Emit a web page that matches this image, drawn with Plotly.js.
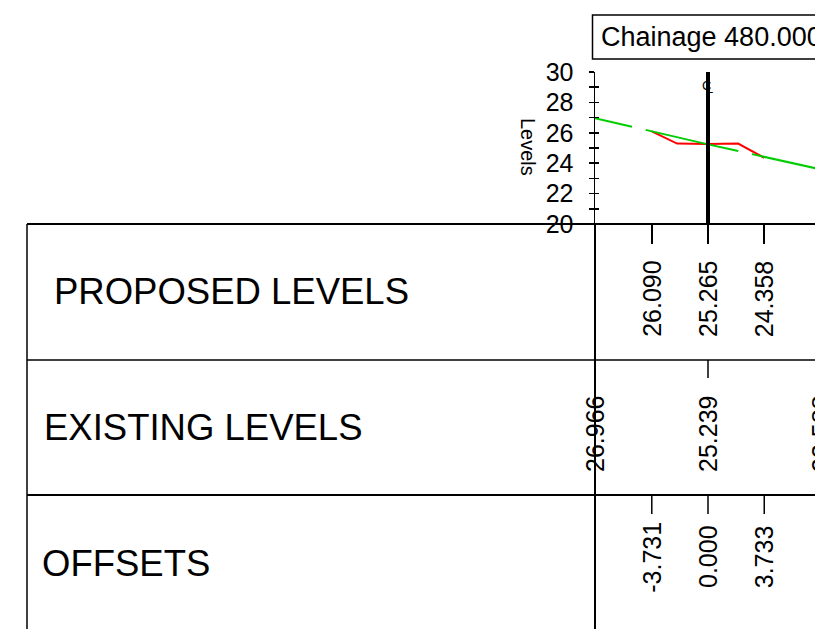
<!DOCTYPE html>
<html>
<head>
<meta charset="utf-8">
<script src="https://cdn.plot.ly/plotly-3.0.1.min.js"></script>
<style>html,body{margin:0;padding:0;overflow:hidden;background:#fff;}</style>
</head>
<body>
<div id="chart"></div>
<script>
// ---- data ----
const chainage = 480.000;
const proposedOffsets = [-3.731, -2.05, 0.000, 2.00, 3.733];
const proposedLevels  = [26.090, 25.29, 25.265, 25.29, 24.358];
const proposedLabelOffsets = [-3.731, 0.000, 3.733];
const proposedLabelLevels  = [26.090, 25.265, 24.358];
const existingOffsets = [-7.5, 0.000, 7.5];
const existingLevels  = [26.966, 25.239, 23.588];
const existingTickOffsets = [0.000];
const offsetLabels = [-3.731, 0.000, 3.733];
const rowTitles = ['PROPOSED LEVELS', 'EXISTING LEVELS', 'OFFSETS'];

// ---- layout geometry (pixels) ----
const W = 900, H = 629;
const PL = 595, PR = 821, PT = 72, PB = 224;
const px = v => (v - PL) / (PR - PL);
const py = v => (PB - v) / (PB - PT);
const FONT = 'Liberation Sans, Arial, sans-serif';

const traces = [
  {x: proposedOffsets, y: proposedLevels, mode: 'lines', line: {color: '#ff0000', width: 2}, hoverinfo: 'skip'},
  {x: existingOffsets, y: existingLevels, mode: 'lines',
   line: {color: '#00cd00', width: 2, dash: '38px,14px,95px,14px,400px'}, hoverinfo: 'skip'},
  {x: [0, 0], y: [20, 30], mode: 'lines', line: {color: '#000', width: 4}, yaxis: 'y2', hoverinfo: 'skip'}
];

const shapes = [];
const hline = (y, x0, x1, w) => shapes.push({type: 'line', xref: 'paper', yref: 'paper',
  x0: px(x0), x1: px(x1), y0: py(y), y1: py(y), line: {color: '#000', width: w}});
const vline = (x, y0, y1, w) => shapes.push({type: 'line', xref: 'paper', yref: 'paper',
  x0: px(x), x1: px(x), y0: py(y0), y1: py(y1), line: {color: '#000', width: w}});
hline(224, 27, W + 5, 2);
hline(360, 27, W + 5, 1.5);
hline(495, 27, W + 5, 2);
vline(27, 224, H + 5, 1.5);
vline(595, 224, H + 5, 2);
// chainage title box
shapes.push({type: 'rect', xref: 'paper', yref: 'paper', x0: px(592.5), x1: px(830), y0: py(15), y1: py(59),
  line: {color: '#000', width: 1.5}, fillcolor: 'rgba(0,0,0,0)'});
existingTickOffsets.forEach(v => shapes.push({type: 'line', xref: 'x', yref: 'paper',
  x0: v, x1: v, y0: py(360), y1: py(378), line: {color: '#000', width: 1.5}}));
offsetLabels.forEach(v => shapes.push({type: 'line', xref: 'x', yref: 'paper',
  x0: v, x1: v, y0: py(495), y1: py(514), line: {color: '#000', width: 1.5}}));

const annotations = [];
const rowY = [291, 427.5, 563];
const rowX = [52, 42, 40];
rowTitles.forEach((t, i) => annotations.push({text: t, xref: 'paper', yref: 'paper',
  x: px(rowX[i]), y: py(rowY[i]), xanchor: 'left', yanchor: 'middle', showarrow: false,
  font: {family: FONT, size: 36.5, color: '#000'}}));
const valLabel = (x, val, yc) => annotations.push({text: val.toFixed(3), xref: 'x', yref: 'paper',
  x: x, y: py(yc), xanchor: 'center', yanchor: 'middle', textangle: -90, showarrow: false,
  font: {family: FONT, size: 25, color: '#000'}});
proposedLabelOffsets.forEach((o, i) => valLabel(o, proposedLabelLevels[i], 299));
existingOffsets.forEach((o, i) => valLabel(o, existingLevels[i], 434));
offsetLabels.forEach(o => valLabel(o, o, 557));

annotations.push({text: 'Chainage ' + chainage.toFixed(3), xref: 'paper', yref: 'paper', x: px(599), y: py(37),
  xanchor: 'left', yanchor: 'middle', showarrow: false,
  font: {family: FONT, size: 27, color: '#000'}});
annotations.push({text: 'Levels', xref: 'paper', yref: 'paper', x: px(528), y: py(147),
  xanchor: 'center', yanchor: 'middle', textangle: 90, showarrow: false,
  font: {family: FONT, size: 20, color: '#000'}});
annotations.push({text: 'C', xref: 'paper', yref: 'paper', x: px(706), y: py(85),
  xanchor: 'center', yanchor: 'middle', showarrow: false, font: {family: FONT, size: 13, color: '#000'}});
annotations.push({text: 'L', xref: 'paper', yref: 'paper', x: px(704), y: py(88),
  xanchor: 'left', yanchor: 'middle', showarrow: false, font: {family: FONT, size: 13, color: '#000'}});

const layout = {
  width: W, height: H,
  margin: {l: PL, r: W - PR, t: PT, b: H - PB},
  paper_bgcolor: '#fff', plot_bgcolor: 'rgba(0,0,0,0)',
  showlegend: false,
  xaxis: {range: [-7.5, 7.5], showgrid: false, zeroline: false, showline: false,
    tickmode: 'array', tickvals: proposedLabelOffsets, ticks: 'outside', ticklen: 19, tickwidth: 1.5,
    tickcolor: '#000', showticklabels: false, fixedrange: true},
  yaxis: {range: [20, 30], tick0: 20, dtick: 1, ticklabelstep: 2, ticks: 'outside', ticklen: 5,
    tickwidth: 1.5, tickcolor: '#000', showline: true, linewidth: 1.5, linecolor: '#000',
    showgrid: false, zeroline: false, ticklabelstandoff: 10,
    tickfont: {family: FONT, size: 25, color: '#000'}},
  yaxis2: {range: [20, 30], overlaying: 'y', side: 'left', tick0: 20, dtick: 1, ticks: 'inside',
    ticklen: 4, tickwidth: 1.5, tickcolor: '#000', showticklabels: false, showgrid: false,
    zeroline: false, showline: false},
  shapes: shapes,
  annotations: annotations
};

Plotly.newPlot('chart', traces, layout, {displayModeBar: false, staticPlot: true});
</script>
</body>
</html>
